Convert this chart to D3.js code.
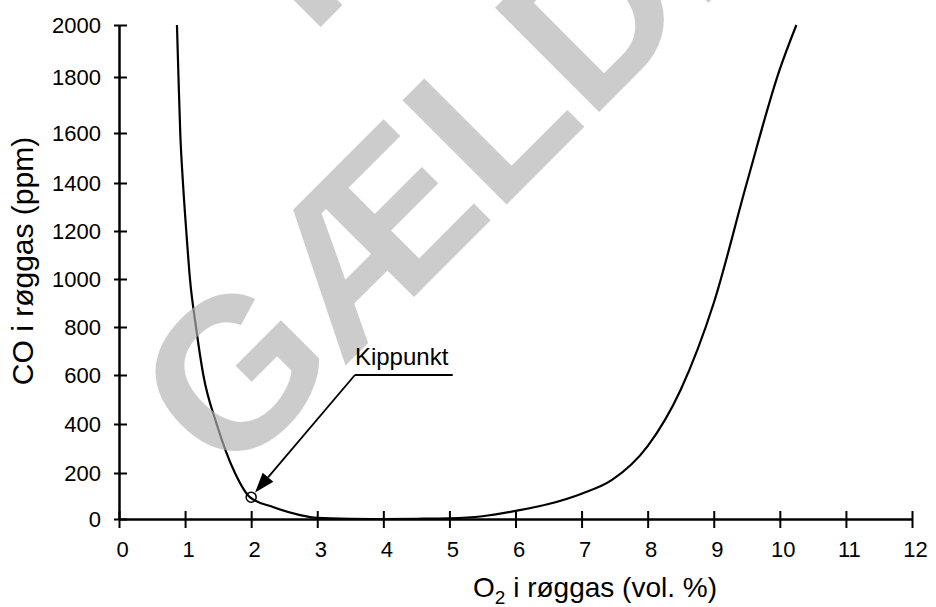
<!DOCTYPE html>
<html>
<head>
<meta charset="utf-8">
<script src="https://cdn.jsdelivr.net/npm/d3@7/dist/d3.min.js"></script>
<style>
  body { margin: 0; background: #fff; }
</style>
</head>
<body>
<div id="vis"></div>
<script>
// values
const xTickValues = [0, 1, 2, 3, 4, 5, 6, 7, 8, 9, 10, 11, 12];
const yTickValues = [0, 200, 400, 600, 800, 1000, 1200, 1400, 1600, 1800, 2000];

const o2 = [0.877, 0.90, 0.927, 0.968, 1.018, 1.074, 1.165, 1.276, 1.478, 1.755, 1.98,
            2.33, 2.74, 3.0, 3.5, 4.0, 4.5, 5.0, 5.5, 6.0, 6.5, 7.0, 7.46,
            8.0, 8.5, 9.0, 9.5, 10.0, 10.25];
const co = [2000, 1800, 1600, 1400, 1200, 1000, 800, 600, 400, 200, 95,
            52, 17, 5, 1, 0, 1, 3, 12, 35, 65, 110, 170,
            310, 540, 900, 1400, 1830, 2000];

const kippunkt = { o2: 2, co: 95, label: 'Kippunkt', labelO2: [3.57, 5.05], labelCo: 600 };
const watermarkLines = ['IKKE', 'GÆLDENDE'];

const width = 936;
const height = 607;
const font = 'Liberation Sans, Arial, Helvetica, sans-serif';

const x = d3.scaleLinear()
    .domain([0, 12])
    .range([119, 912]);

// the printed y axis is not evenly spaced, so the scale follows the ticks
const y = d3.scaleLinear()
    .domain(yTickValues)
    .range([519, 473, 424, 375, 327, 279, 231, 183, 133, 77, 25]);

const svg = d3.select('#vis')
    .append('svg')
    .attr('width', width)
    .attr('height', height);

// curve
const line = d3.line()
    .x(d => x(d[0]))
    .y(d => y(d[1]))
    .curve(d3.curveMonotoneX);

svg.append('path')
    .datum(o2.map((v, i) => [v, co[i]]))
    .attr('fill', 'none')
    .attr('stroke', '#000')
    .attr('stroke-width', 2.2)
    .attr('d', line);

// watermark
const wm = svg.append('g')
    .attr('transform', 'translate(673,38) rotate(-45)')
    .attr('fill', '#b3b3b3')
    .attr('fill-opacity', 0.67)
    .attr('font-family', font)
    .attr('font-weight', 'bold')
    .attr('font-size', 214)
    .attr('text-anchor', 'middle');

wm.selectAll('text')
    .data(watermarkLines)
    .join('text')
    .attr('y', (d, i) => (i - watermarkLines.length + 1) * 257)
    .text(d => d);

// axes
const xAxis = svg.append('g')
    .attr('transform', `translate(0, ${y(0)})`)
    .call(d3.axisBottom(x).tickValues(xTickValues).tickFormat(d3.format('d')).tickSizeOuter(0));

const yAxis = svg.append('g')
    .attr('transform', `translate(${x(0)}, 0)`)
    .call(d3.axisLeft(y).tickValues(yTickValues).tickFormat(d3.format('d')).tickSizeOuter(0));

svg.selectAll('.domain')
    .attr('stroke', '#000')
    .attr('stroke-width', 2.5);

xAxis.selectAll('.tick line')
    .attr('y1', -8)
    .attr('y2', 9)
    .attr('stroke-width', 2);

xAxis.selectAll('.tick text')
    .attr('y', 38)
    .attr('dy', null)
    .attr('dx', 3);

yAxis.selectAll('.tick line')
    .attr('x1', -5)
    .attr('x2', 8)
    .attr('stroke-width', 2);

yAxis.selectAll('.tick text')
    .attr('x', -18)
    .attr('dy', '0.35em');

svg.selectAll('.tick text')
    .attr('fill', '#000')
    .attr('font-family', font)
    .attr('font-size', '22px');

// axis titles
const xTitle = svg.append('text')
    .attr('x', 595)
    .attr('y', 597)
    .attr('text-anchor', 'middle')
    .attr('font-family', font)
    .attr('font-size', '28px')
    .attr('fill', '#000');
xTitle.append('tspan').text('O');
xTitle.append('tspan').attr('font-size', '19px').attr('dy', 7).text('2');
xTitle.append('tspan').attr('dy', -7).text(' i røggas (vol. %)');

svg.append('text')
    .attr('transform', 'translate(33, 261) rotate(-90)')
    .attr('text-anchor', 'middle')
    .attr('font-family', font)
    .attr('font-size', '30px')
    .attr('fill', '#000')
    .text('CO i røggas (ppm)');

// Kippunkt annotation
const px = x(kippunkt.o2), py = y(kippunkt.co);
const ex = x(kippunkt.labelO2[0]), ey = y(kippunkt.labelCo);

svg.append('path')
    .attr('fill', 'none')
    .attr('stroke', '#000')
    .attr('stroke-width', 2)
    .attr('d', `M${x(kippunkt.labelO2[1])},${ey}H${ex}`);

const dx = px - ex, dy = py - ey, len = Math.hypot(dx, dy);
const ux = dx / len, uy = dy / len;
const tipX = px - ux * 6, tipY = py - uy * 6;
const headLen = 20, headW = 7;
const bx = tipX - ux * headLen, by = tipY - uy * headLen;

svg.append('line')
    .attr('x1', ex).attr('y1', ey)
    .attr('x2', bx).attr('y2', by)
    .attr('stroke', '#000')
    .attr('stroke-width', 1.8);

svg.append('path')
    .attr('fill', '#000')
    .attr('d', `M${tipX},${tipY}L${bx - uy * headW},${by + ux * headW}L${bx + uy * headW},${by - ux * headW}Z`);

svg.append('circle')
    .attr('cx', px)
    .attr('cy', py)
    .attr('r', 5)
    .attr('fill', 'none')
    .attr('stroke', '#000')
    .attr('stroke-width', 1.5);

svg.append('text')
    .attr('x', ex)
    .attr('y', ey - 10)
    .attr('font-family', font)
    .attr('font-size', '24px')
    .attr('fill', '#000')
    .text(kippunkt.label);
</script>
</body>
</html>
